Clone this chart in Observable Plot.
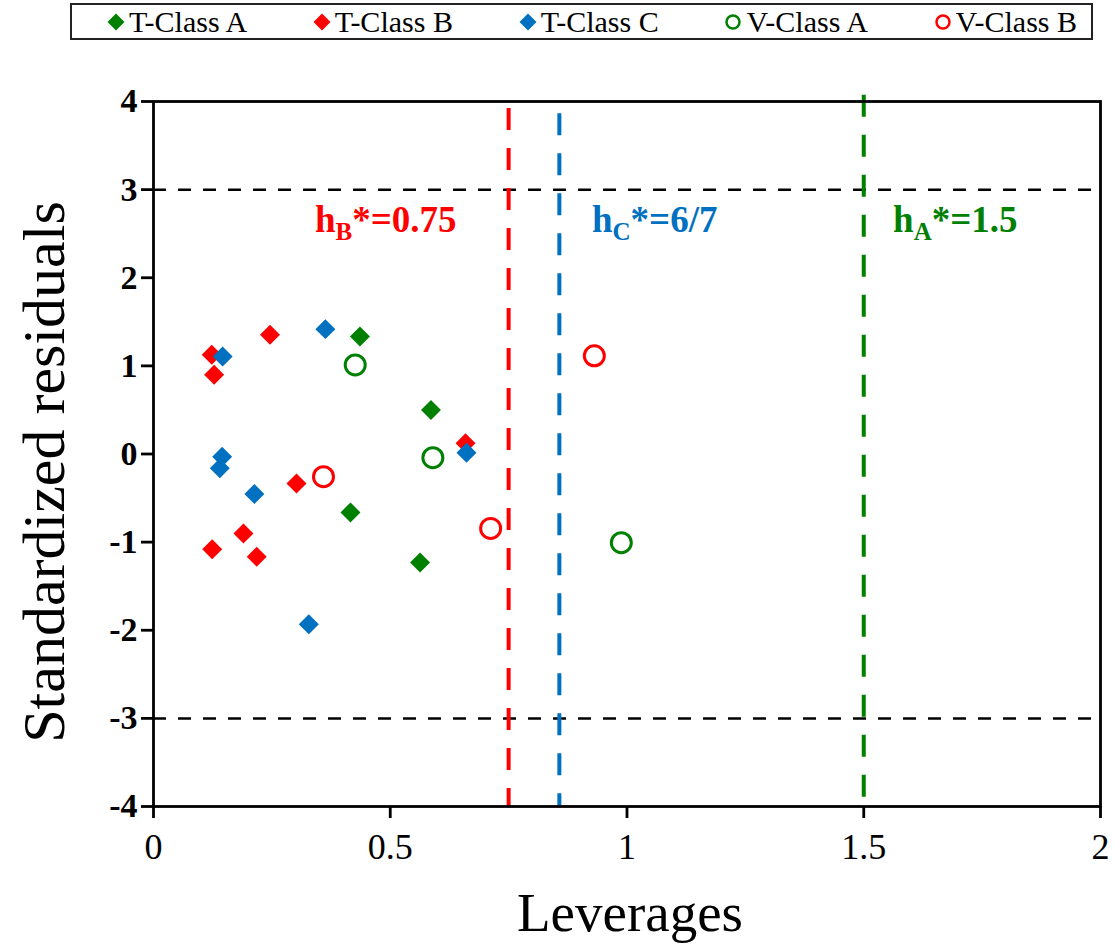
<!DOCTYPE html>
<html>
<head>
<meta charset="utf-8">
<script src="https://cdn.jsdelivr.net/npm/d3@7"></script>
<script src="https://cdn.jsdelivr.net/npm/@observablehq/plot@0.6"></script>
<style>
  body { margin: 0; background: #fff; font-family: "Liberation Serif", "Times New Roman", serif; }
  #wrap { width: 1113px; height: 947px; overflow: hidden; }
  #legend { position: relative; height: 45px; }
  #legend .box { position: absolute; left: 70px; top: 3px; width: 970px; height: 33px;
    border: 2px solid #222; display: flex; align-items: center; justify-content: space-between;
    padding: 0 14px 0 35px; box-sizing: content-box; }
  #legend .item { display: flex; align-items: center; font-size: 30px; color: #000; line-height: 1; }
  #legend .item svg { margin-right: 4px; }
</style>
</head>
<body>
<div id="wrap">
  <div id="legend"><div class="box" id="legendBox"></div></div>
  <div id="chart"></div>
</div>
<script>
// ---------- data ----------
const GREEN = "#008000", RED = "#FF0000", BLUE = "#0070C0";

const tClassA_lev = [0.436, 0.586, 0.416, 0.563];
const tClassA_res = [1.333, 0.500, -0.663, -1.231];

const tClassB_lev = [0.123, 0.128, 0.246, 0.659, 0.302, 0.190, 0.124, 0.218];
const tClassB_res = [1.125, 0.898, 1.352, 0.122, -0.335, -0.901, -1.080, -1.167];

const tClassC_lev = [0.146, 0.363, 0.661, 0.145, 0.140, 0.213, 0.328];
const tClassC_res = [1.106, 1.417, 0.015, -0.031, -0.163, -0.455, -1.932];

const vClassA_lev = [0.426, 0.590, 0.988];
const vClassA_res = [1.011, -0.042, -1.006];

const vClassB_lev = [0.359, 0.712, 0.931];
const vClassB_res = [-0.258, -0.844, 1.114];

const residualLimits = [3, -3];
const warningLeverages = [0.75, 6 / 7, 1.5];
const warningTops = [3.92, 3.86, 4.07];
const warningLabels = ["hB*=0.75", "hC*=6/7", "hA*=1.5"];
const warningLabelX = [0.341, 0.926, 1.562];
const warningLabelY = [2.52, 2.52, 2.52];

const xTicks = [0, 0.5, 1, 1.5, 2];
const yTicks = [-4, -3, -2, -1, 0, 1, 2, 3, 4];

const legendLabels = ["T-Class A", "T-Class B", "T-Class C", "V-Class A", "V-Class B"];
const legendShapes = ["diamond", "diamond", "diamond", "circle", "circle"];
const legendColors = [GREEN, RED, BLUE, GREEN, RED];

// ---------- build tables ----------
const pts = (xs, ys) => xs.map((x, i) => ({x, y: ys[i]}));
const tA = pts(tClassA_lev, tClassA_res);
const tB = pts(tClassB_lev, tClassB_res);
const tC = pts(tClassC_lev, tClassC_res);
const vA = pts(vClassA_lev, vClassA_res);
const vB = pts(vClassB_lev, vClassB_res);
const lineColors = [RED, BLUE, GREEN];
const warn = warningLeverages.map((h, i) => ({h, top: warningTops[i], color: lineColors[i]}));
const annots = warningLabels.map((t, i) => ({t, x: warningLabelX[i], y: warningLabelY[i], color: lineColors[i]}));

// ---------- legend ----------
const box = document.getElementById("legendBox");
legendLabels.forEach((lab, i) => {
  const item = document.createElement("div");
  item.className = "item";
  const c = legendColors[i];
  const sym = legendShapes[i] === "diamond"
    ? `<svg width="18" height="18" viewBox="-9 -9 18 18"><path d="M0,-8.5L8.5,0L0,8.5L-8.5,0Z" fill="${c}"/></svg>`
    : `<svg width="18" height="18" viewBox="-9 -9 18 18"><circle r="6.5" fill="none" stroke="${c}" stroke-width="2.5"/></svg>`;
  item.innerHTML = sym + `<span>${lab}</span>`;
  box.appendChild(item);
});

// ---------- plot ----------
const diamond = (data, color) => Plot.dot(data, {x: "x", y: "y", symbol: "diamond2", r: 9, fill: color, stroke: "none"});
const ring = (data, color) => Plot.dot(data, {x: "x", y: "y", symbol: "circle", r: 10, fill: "none", stroke: color, strokeWidth: 3});

const chart = Plot.plot({
  width: 1113,
  height: 902,
  marginTop: 56,
  marginBottom: 141,
  marginLeft: 153,
  marginRight: 13,
  style: {fontFamily: "Liberation Serif, Times New Roman, serif", fontSize: "36px", color: "#000", background: "#fff"},
  x: {domain: [0, 2]},
  y: {domain: [-4, 4]},
  marks: [
    Plot.ruleY(residualLimits, {y: d => d, x1: 0, x2: 2, stroke: "#000", strokeWidth: 2.5, strokeDasharray: "13,12"}),
    ...warn.map(w => Plot.ruleX([w], {x: "h", y1: "top", y2: -4, stroke: w.color, strokeWidth: 4, strokeDasharray: "22,18"})),
    Plot.frame({stroke: "#000", strokeWidth: 2.8}),
    Plot.axisY({ticks: yTicks, tickFormat: d => String(d), tickSize: 12, tickPadding: 4, strokeWidth: 2.8, fontSize: 34, fontWeight: "bold", label: null}),
    Plot.axisX({ticks: xTicks, tickFormat: d => String(d), tickSize: 12, tickPadding: 15, strokeWidth: 2.8, fontSize: 36, label: null}),
    Plot.text(["Standardized residuals"], {frameAnchor: "left", text: d => d, rotate: -90, dx: -90, dy: 18, textAnchor: "middle", lineAnchor: "bottom", fontSize: 60, fill: "#000"}),
    Plot.text(["Leverages"], {frameAnchor: "bottom", text: d => d, dx: 3, dy: 124, textAnchor: "middle", lineAnchor: "bottom", fontSize: 55, fill: "#000"}),
    diamond(tA, GREEN),
    diamond(tB, RED),
    diamond(tC, BLUE),
    ring(vA, GREEN),
    ring(vB, RED),
    ...annots.map(a => Plot.text([a], {x: "x", y: "y", text: "t", fill: a.color, textAnchor: "start", lineAnchor: "bottom", fontSize: 37, fontWeight: "bold"}))
  ]
});

// subscript formatting of the warning-leverage labels
d3.select(chart).selectAll("text").each(function () {
  const m = /^h([A-Z])(\*=.+)$/.exec(this.textContent);
  if (!m) return;
  this.textContent = "";
  const s = d3.select(this);
  s.append("tspan").text("h");
  s.append("tspan").attr("font-size", "25px").attr("dy", "8").text(m[1]);
  s.append("tspan").attr("dy", "-8").text(m[2]);
});

document.getElementById("chart").appendChild(chart);
</script>
</body>
</html>
